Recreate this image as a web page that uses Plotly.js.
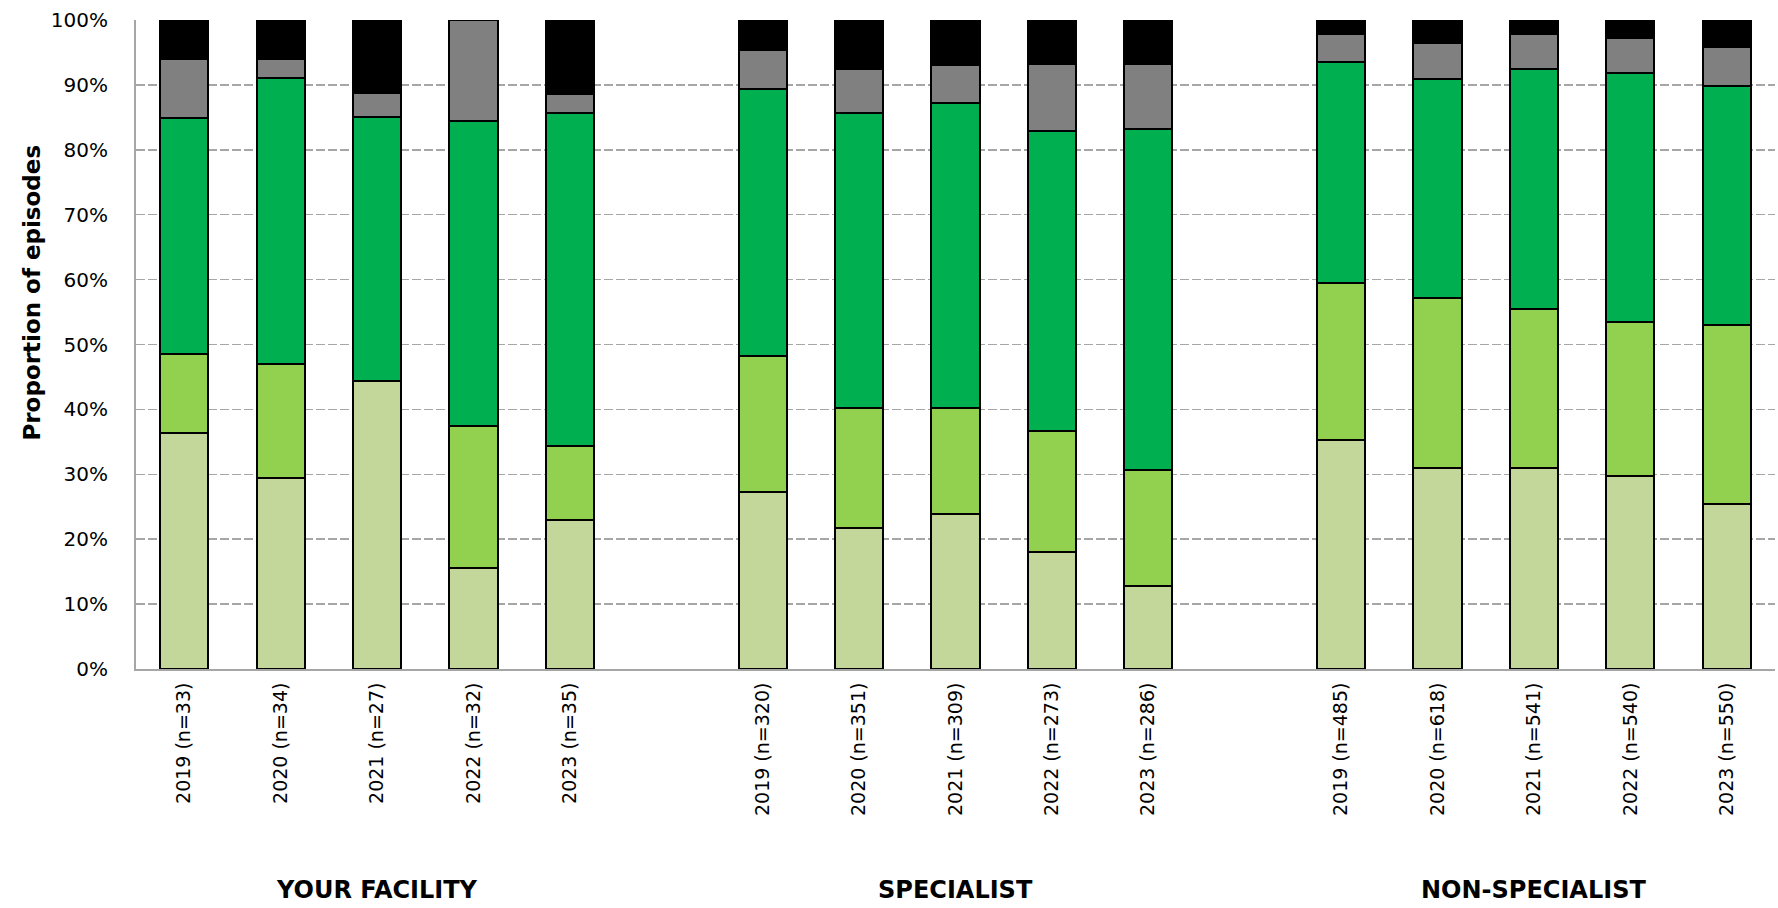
<!DOCTYPE html>
<html>
<head>
<meta charset="utf-8">
<script src="https://cdn.plot.ly/plotly-3.0.1.min.js"></script>
<style>html,body{margin:0;padding:0;background:#fff;}#chart{width:1778px;height:908px;}</style>
</head>
<body>
<div id="chart"></div>
<script>
// ---- data ----
const groups = ["YOUR FACILITY", "SPECIALIST", "NON-SPECIALIST"];
const years = ["2019", "2020", "2021", "2022", "2023"];
const nYourFacility = [33, 34, 27, 32, 35];
const nSpecialist = [320, 351, 309, 273, 286];
const nNonSpecialist = [485, 618, 541, 540, 550];

// proportions (%) per segment, bottom to top; order: your facility (5), specialist (5), non-specialist (5)
const seg1 = [36.4, 29.4, 44.4, 15.6, 22.9,  27.3, 21.7, 23.9, 18.0, 12.8,  35.3, 31.0, 31.0, 29.7, 25.4];
const seg2 = [12.1, 17.6, 0.0, 21.9, 11.4,   21.0, 18.5, 16.3, 18.6, 17.9,  24.1, 26.2, 24.4, 23.8, 27.6];
const seg3 = [36.4, 44.1, 40.7, 46.9, 51.4,  41.0, 45.4, 47.0, 46.3, 52.5,  34.2, 33.7, 37.0, 38.3, 36.9];
const seg4 = [9.1, 2.9, 3.7, 15.6, 2.9,      6.1, 6.8, 5.8, 10.3, 10.0,     4.3, 5.5, 5.5, 5.5, 5.9];
const seg5 = [6.1, 5.9, 11.1, 0.0, 11.4,     4.6, 7.6, 7.0, 6.8, 6.8,       2.1, 3.6, 2.1, 2.7, 4.2];
const segColors = ["#C4D79B", "#92D050", "#00B050", "#808080", "#000000"];
const yTickVals = [0, 10, 20, 30, 40, 50, 60, 70, 80, 90, 100];

// ---- build categories ----
const nByGroup = [nYourFacility, nSpecialist, nNonSpecialist];
const barIds = [];
const catArray = [], tickVals = [], tickText = [];
groups.forEach((g, gi) => {
  if (gi > 0) { catArray.push("gap" + gi); }
  years.forEach((yr, yi) => {
    const id = g + "|" + yr;
    const lbl = yr + " (n=" + nByGroup[gi][yi] + ")";
    barIds.push(id);
    catArray.push(id); tickVals.push(id); tickText.push(lbl);
  });
});

const segs = [seg1, seg2, seg3, seg4, seg5];
const traces = segs.map((s, i) => ({
  type: "bar",
  x: barIds,
  y: s,
  marker: { color: segColors[i], line: { color: "#000000", width: 2 } },
  width: 0.5,
  hoverinfo: "y",
  showlegend: false
}));

const FONT = "DejaVu Sans, sans-serif";
const annotations = groups.map((g, gi) => ({
  text: "<b>" + g + "</b>",
  x: barIds[gi * 5 + 2],
  xref: "x",
  y: 0,
  yref: "paper",
  yanchor: "middle",
  yshift: -221,
  showarrow: false,
  font: { family: FONT, size: 24, color: "#000" }
}));
annotations.push({
  text: "<b>Proportion of episodes</b>",
  textangle: -90,
  xref: "paper", yref: "paper",
  x: 0, xanchor: "center", xshift: -104,
  y: 0.58, yanchor: "middle",
  showarrow: false,
  font: { family: FONT, size: 23, color: "#000" }
});

const layout = {
  width: 1778,
  height: 908,
  margin: { l: 136, r: 3, t: 20, b: 239 },
  barmode: "stack",
  paper_bgcolor: "#fff",
  plot_bgcolor: "#fff",
  font: { family: FONT, color: "#000" },
  xaxis: {
    type: "category",
    categoryorder: "array",
    categoryarray: catArray,
    tickvals: tickVals,
    ticktext: tickText,
    tickangle: -90,
    tickfont: { family: FONT, size: 19, color: "#000" },
    showgrid: false,
    showline: true,
    linecolor: "#a6a6a6",
    linewidth: 2,
    ticks: "",
    ticklabelstandoff: 4,
    range: [-0.5, catArray.length - 0.5],
    fixedrange: true
  },
  yaxis: {
    range: [0, 100],
    tickvals: yTickVals,
    ticktext: yTickVals.map(v => v + "%"),
    tickfont: { family: FONT, size: 20, color: "#000" },
    showgrid: true,
    gridcolor: "#a6a6a6",
    griddash: "9px,3px",
    gridwidth: 1.5,
    showline: true,
    linecolor: "#a6a6a6",
    linewidth: 2,
    zeroline: false,
    ticks: "",
    ticklabelstandoff: 22,
    fixedrange: true
  },
  annotations: annotations
};

Plotly.newPlot("chart", traces, layout, { displayModeBar: false, staticPlot: true });
</script>
</body>
</html>
